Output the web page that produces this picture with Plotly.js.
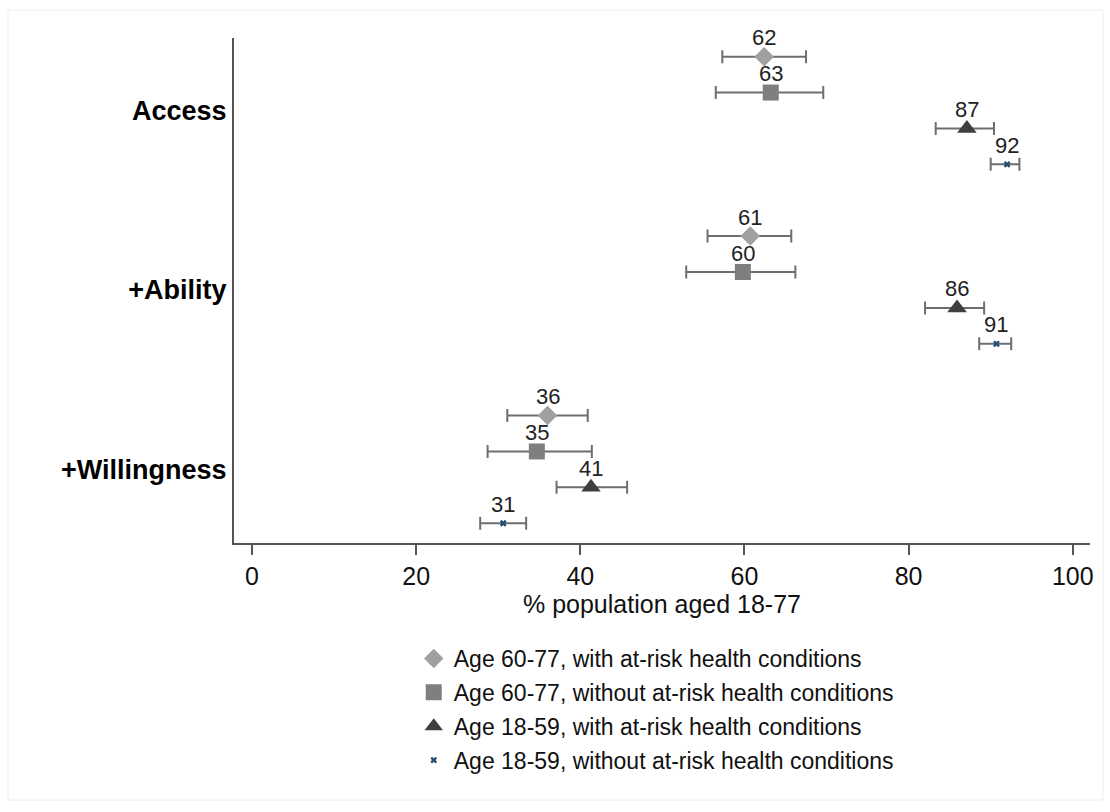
<!DOCTYPE html>
<html>
<head>
<meta charset="utf-8">
<script src="https://cdn.plot.ly/plotly-3.0.1.min.js"></script>
<style>html,body{margin:0;padding:0;background:#fff;}#chart{width:1110px;height:812px;}</style>
</head>
<body>
<div id="chart"></div>
<script>
// Categories (top to bottom)
const categories = ["Access", "+Ability", "+Willingness"];

// Series names
const seriesNames = [
  "Age 60-77, with at-risk health conditions",
  "Age 60-77, without at-risk health conditions",
  "Age 18-59, with at-risk health conditions",
  "Age 18-59, without at-risk health conditions"
];

// Point estimates (% population), per category
const old_risk      = [62.4, 60.7, 36.0];
const old_norisk    = [63.2, 59.8, 34.7];
const young_risk    = [87.1, 85.9, 41.3];
const young_norisk  = [92.0, 90.7, 30.6];

// Confidence interval bounds
const old_risk_lo     = [57.3, 55.5, 31.1];
const old_risk_hi     = [67.5, 65.7, 40.9];
const old_norisk_lo   = [56.5, 52.9, 28.7];
const old_norisk_hi   = [69.6, 66.2, 41.4];
const young_risk_lo   = [83.3, 82.0, 37.1];
const young_risk_hi   = [90.4, 89.2, 45.7];
const young_norisk_lo = [90.0, 88.6, 27.8];
const young_norisk_hi = [93.5, 92.5, 33.4];

const xTicks = [0, 20, 40, 60, 80, 100];

const values = [old_risk, old_norisk, young_risk, young_norisk];
const lows   = [old_risk_lo, old_norisk_lo, young_risk_lo, young_norisk_lo];
const highs  = [old_risk_hi, old_norisk_hi, young_risk_hi, young_norisk_hi];

const styles = [
  {symbol: "diamond", size: 15, color: "#a0a0a0", offset: -0.3},
  {symbol: "square", size: 16, color: "#7f7f7f", offset: -0.1},
  {symbol: "triangle-up", size: 17, color: "#3f3f3f", offset: 0.1},
  {symbol: "x", size: 6, color: "#1f4e79", offset: 0.3}
];

const traces = values.map((vals, i) => {
  const st = styles[i];
  return {
    type: "scatter",
    mode: "markers",
    name: seriesNames[i],
    legendgroup: "g" + i,
    x: vals,
    y: categories.map((c, k) => k + st.offset),
    marker: {symbol: st.symbol, size: st.size, color: st.color, line: {width: 0}},
    error_x: {
      type: "data",
      symmetric: false,
      array: vals.map((v, k) => highs[i][k] - v),
      arrayminus: vals.map((v, k) => v - lows[i][k]),
      color: "#6e6e6e",
      thickness: 2,
      width: 6.5
    },
    cliponaxis: false,
    hoverinfo: "x+name"
  };
});

// Value labels above each marker
const annotations = [];
values.forEach((vals, i) => {
  vals.forEach((v, k) => {
    annotations.push({
      x: v, y: k + styles[i].offset, xref: "x", yref: "y",
      text: String(Math.round(v)), showarrow: false,
      yshift: 19,
      font: {family: "Liberation Sans, Arial, sans-serif", size: 22, color: "#222"}
    });
  });
});

const layout = {
  width: 1110,
  height: 812,
  paper_bgcolor: "#ffffff",
  plot_bgcolor: "#ffffff",
  margin: {l: 234, r: 20, t: 38, b: 269},
  font: {family: "Liberation Sans, Arial, sans-serif", color: "#111"},
  showlegend: true,
  annotations: annotations,
  xaxis: {
    range: [-2.2, 102.1],
    tickvals: xTicks,
    ticktext: xTicks.map(String),
    ticks: "outside",
    ticklen: 10,
    tickwidth: 2,
    tickcolor: "#555",
    showline: true,
    linecolor: "#555",
    linewidth: 2,
    showgrid: false,
    zeroline: false,
    tickfont: {size: 25, color: "#111"},
    title: {text: "% population aged 18-77", font: {size: 25, color: "#111"}, standoff: 2}
  },
  yaxis: {
    range: [2.41, -0.404],
    tickvals: categories.map((c, k) => k),
    ticktext: categories,
    ticks: "",
    showline: true,
    linecolor: "#555",
    linewidth: 2,
    showgrid: false,
    zeroline: false,
    ticklabelstandoff: 0,
    tickfont: {size: 27, color: "#000", weight: "bold"}
  },
  legend: {
    x: 0.21,
    y: -0.186,
    xanchor: "left",
    yanchor: "top",
    orientation: "v",
    traceorder: "grouped",
    tracegroupgap: 1,
    font: {size: 23, color: "#111"},
    bgcolor: "rgba(0,0,0,0)",
    itemsizing: "trace"
  },
  shapes: [
    {type: "rect", xref: "paper", yref: "paper",
     x0: -226/856, x1: 1103/856 - 234/856, y0: (543-800)/505, y1: (543-10)/505,
     line: {color: "#eeeeee", width: 1}, layer: "below"}
  ]
};

Plotly.newPlot("chart", traces, layout, {displayModeBar: false, staticPlot: true});
</script>
</body>
</html>
